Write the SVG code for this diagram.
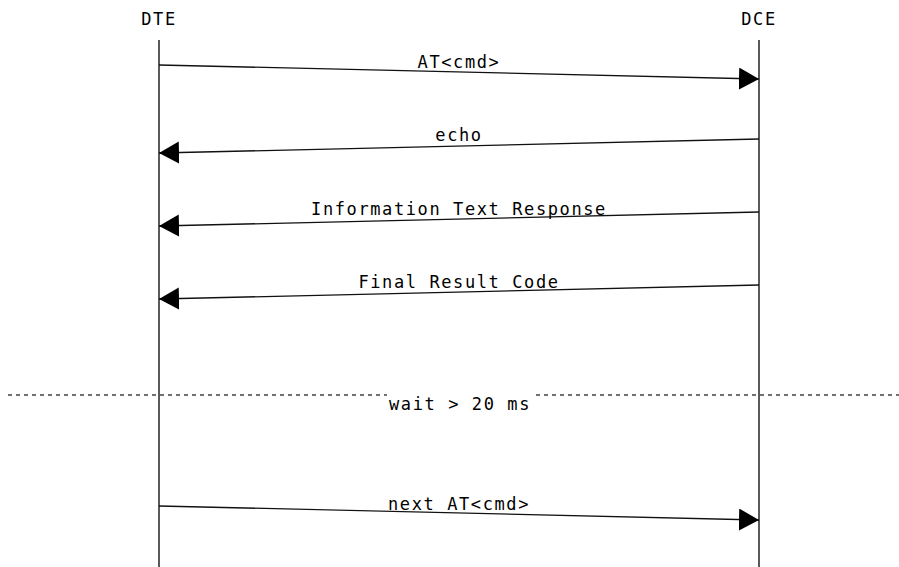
<svg xmlns="http://www.w3.org/2000/svg" width="899" height="567" viewBox="0 0 899 567">
<style>
text{font-family:"DejaVu Sans Mono","Liberation Mono",monospace;font-size:17px;letter-spacing:1.6px;fill:#000;text-anchor:middle}
.life{stroke:#000;stroke-width:1.3;fill:none}
.msg{stroke:#111;stroke-width:1.3;fill:none;marker-end:url(#ah)}
.sep{stroke:#444;stroke-width:1.3;stroke-dasharray:4 4;fill:none}
</style>
<defs>
<marker id="ah" markerUnits="userSpaceOnUse" markerWidth="22" markerHeight="24" refX="20" refY="11" orient="auto">
<path d="M0,0 L20,11 L0,22 z" fill="#000"/>
</marker>
</defs>
<rect width="899" height="567" fill="#fff"/>
<g id="DTE">
<text x="159" y="25">DTE</text>
<line class="life" x1="159" y1="40" x2="159" y2="567"/>
</g>
<g id="DCE">
<text x="759" y="25">DCE</text>
<line class="life" x1="759" y1="40" x2="759" y2="567"/>
</g>
<g id="connectors">
<line class="msg" x1="159" y1="65" x2="759" y2="79"/>
<text x="459" y="68">AT&lt;cmd&gt;</text>
<line class="msg" x1="759" y1="139" x2="159" y2="153"/>
<text x="459" y="141">echo</text>
<line class="msg" x1="759" y1="212" x2="159" y2="226"/>
<text x="459" y="215">Information Text Response</text>
<line class="msg" x1="759" y1="285" x2="159" y2="299"/>
<text x="459" y="288">Final Result Code</text>
<line class="sep" x1="8" y1="395" x2="899" y2="395"/>
<rect x="387" y="392" width="148" height="22" fill="#fff"/>
<text x="460" y="410">wait &gt; 20 ms</text>
<line class="msg" x1="159" y1="506" x2="759" y2="520"/>
<text x="459" y="510">next AT&lt;cmd&gt;</text>
</g>
</svg>
